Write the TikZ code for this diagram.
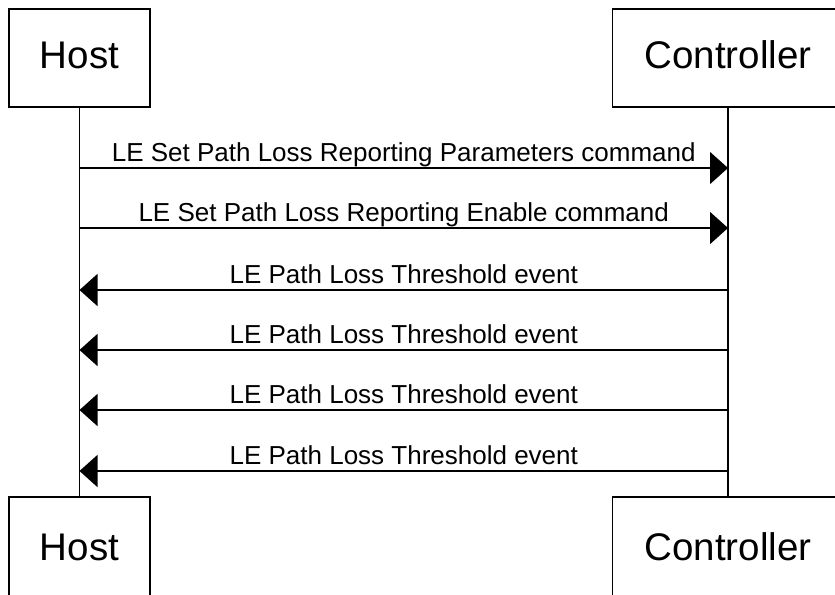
\documentclass[tikz,border=0pt]{standalone}
\usepackage{fontspec}
\setmainfont{Liberation Sans}
\usetikzlibrary{arrows.meta}

\begin{document}
\begin{tikzpicture}[x=0.75pt, y=-0.75pt,
    actor/.style={draw, line width=1.1pt, inner sep=0pt, text height=20.7pt, text depth=5.25pt, font=\fontsize{28.9}{34}\selectfont},
    msg/.style={line width=1.1pt, -{Triangle[length=13.5pt, width=24pt]}},
    lbl/.style={anchor=base, inner sep=0pt, yshift=5.25pt, font=\fontsize{19.5}{23}\selectfont}]

        % Page frame
        \clip (0,0) rectangle (835,594);

        % Participants at the top and the bottom
        \node[actor, minimum width=105.75pt, minimum height=73.5pt] (hostT) at (79.5,58) {Host};
        \node[actor, minimum width=173.25pt, minimum height=73.5pt] (ctrlT) at (728,58) {Controller};
        \node[actor, minimum width=105.75pt, minimum height=80pt] (hostB) at (79.5,550.3) {Host};
        \node[actor, minimum width=173.25pt, minimum height=80pt] (ctrlB) at (728,550.3) {Controller};

        % Lifelines
        \draw[line width=1.1pt] (hostT) -- (hostB);
        \draw[line width=1.1pt] (ctrlT) -- (ctrlB);

        % Message points on the lifelines
        \coordinate (h1) at (79.5,168); \coordinate (c1) at (728,168);
        \coordinate (h2) at (79.5,228); \coordinate (c2) at (728,228);
        \coordinate (h3) at (79.5,290); \coordinate (c3) at (728,290);
        \coordinate (h4) at (79.5,350); \coordinate (c4) at (728,350);
        \coordinate (h5) at (79.5,410); \coordinate (c5) at (728,410);
        \coordinate (h6) at (79.5,471); \coordinate (c6) at (728,471);

        % Commands from the host
        \draw[msg] (h1) -- node[lbl] {LE Set Path Loss Reporting Parameters command} (c1);
        \draw[msg] (h2) -- node[lbl] {LE Set Path Loss Reporting Enable command} (c2);

        % Events from the controller
        \draw[msg] (c3) -- node[lbl] {LE Path Loss Threshold event} (h3);
        \draw[msg] (c4) -- node[lbl] {LE Path Loss Threshold event} (h4);
        \draw[msg] (c5) -- node[lbl] {LE Path Loss Threshold event} (h5);
        \draw[msg] (c6) -- node[lbl] {LE Path Loss Threshold event} (h6);

    \end{tikzpicture}
\end{document}
